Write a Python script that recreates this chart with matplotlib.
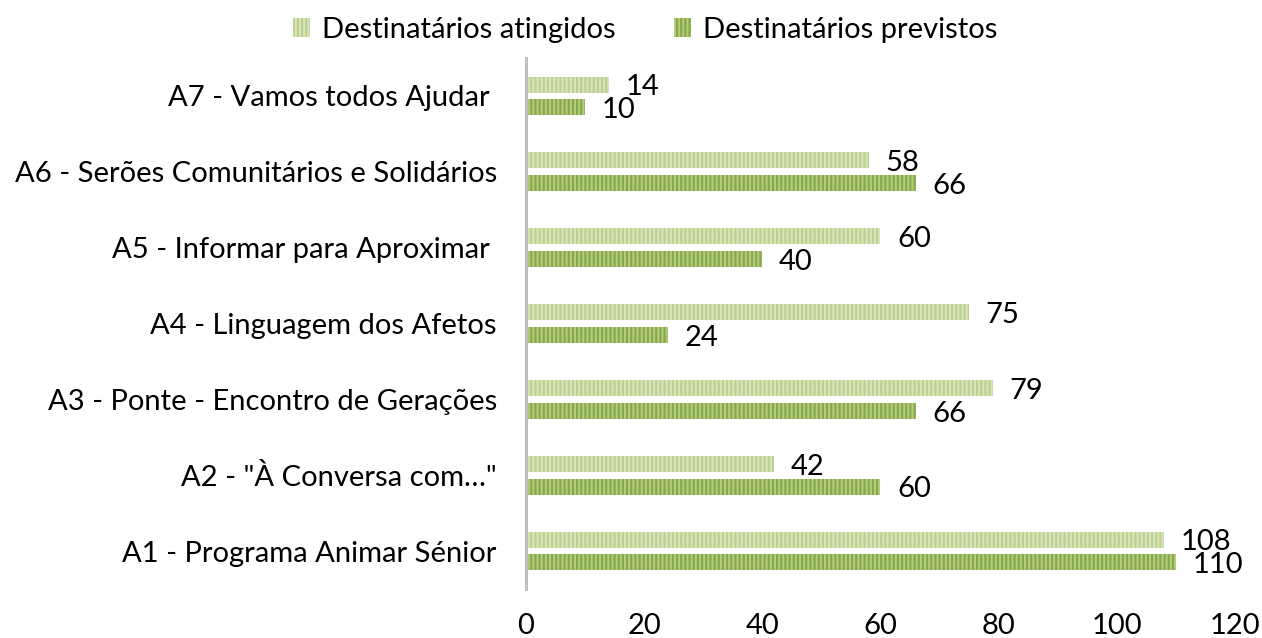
import matplotlib
matplotlib.use("Agg")
import matplotlib.pyplot as plt
import numpy as np
from matplotlib.patches import Patch

plt.rcParams['font.family'] = ['Lato', 'DejaVu Sans']
plt.rcParams['hatch.linewidth'] = 1.6

categories = ["A1 - Programa Animar Sénior", "A2 - \"À Conversa com…\"",
              "A3 - Ponte - Encontro de Gerações", "A4 - Linguagem dos Afetos",
              "A5 - Informar para Aproximar ", "A6 - Serões Comunitários e Solidários",
              "A7 - Vamos todos Ajudar "]
atingidos = [108, 42, 79, 75, 60, 58, 14]
previstos = [110, 60, 66, 24, 40, 66, 10]
xticks = [0, 20, 40, 60, 80, 100, 120]

light_face, light_hatch = '#d9e5c0', '#bcd18e'
dark_face, dark_hatch = '#b5cc85', '#88aa46'
FS = 21

fig = plt.figure(figsize=(12.62, 6.38), dpi=100)
ax = fig.add_axes([0.4168, 0.0768, 0.5618, 0.8322])

y = np.arange(len(categories))
off = 0.15
h = 0.21
ax.barh(y + off, atingidos, height=h, color=light_face, edgecolor=light_hatch,
        hatch='||||', linewidth=0)
ax.barh(y - off, previstos, height=h, color=dark_face, edgecolor=dark_hatch,
        hatch='||||', linewidth=0)

for yi, v in zip(y, atingidos):
    ax.annotate(str(v), (v, yi + off), xytext=(12, -2), textcoords='offset points',
                ha='left', va='center', fontsize=FS, color='black')
for yi, v in zip(y, previstos):
    ax.annotate(str(v), (v, yi - off), xytext=(12, -2), textcoords='offset points',
                ha='left', va='center', fontsize=FS, color='black')

ax.set_xlim(0, 120)
ax.set_ylim(-0.5, 6.5)
ax.set_xticks(xticks)
ax.set_xticklabels([str(t) for t in xticks], fontsize=FS)
ax.set_yticks(y)
ax.set_yticklabels(categories, fontsize=FS)
ax.tick_params(axis='x', length=0, pad=17)
ax.tick_params(axis='y', length=0, pad=21)
for s in ['top', 'right', 'bottom']:
    ax.spines[s].set_visible(False)
ax.spines['left'].set_color('#bfbfbf')
ax.spines['left'].set_linewidth(2.2)

handles = [Patch(facecolor=light_face, edgecolor=light_hatch, hatch='||||', linewidth=0,
                 label='Destinatários atingidos'),
           Patch(facecolor=dark_face, edgecolor=dark_hatch, hatch='||||', linewidth=0,
                 label='Destinatários previstos')]
fig.legend(handles=handles, loc='upper center', bbox_to_anchor=(0.511, 1.015), ncol=2,
           frameon=False, fontsize=FS, handlelength=0.6, handleheight=0.6,
           handletextpad=0.4, columnspacing=2.0)

fig.savefig('out.png', dpi=100)
